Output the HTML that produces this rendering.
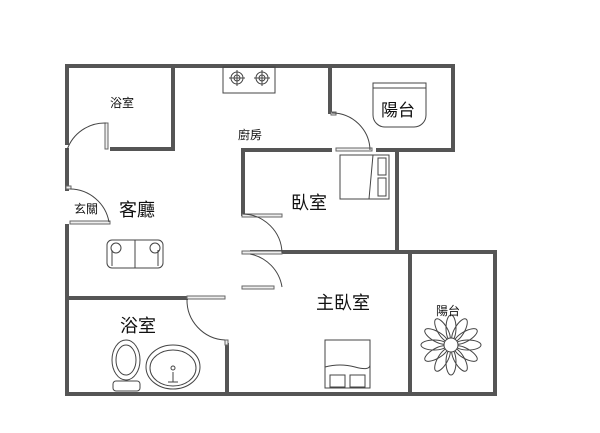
<!DOCTYPE html>
<html><head><meta charset="utf-8"><style>
html,body{margin:0;padding:0;background:#fff;width:600px;height:433px;overflow:hidden}
text{font-family:"Liberation Sans","Noto Sans CJK TC",sans-serif;fill:#111}
</style></head><body>
<svg width="600" height="433" viewBox="0 0 600 433" xmlns="http://www.w3.org/2000/svg">
<g stroke="#555" stroke-width="4" fill="none" stroke-linecap="square">
<!-- outer top -->
<line x1="67" y1="66" x2="453" y2="66"/>
<!-- left wall -->
<line x1="67" y1="66" x2="67" y2="143"/>
<line x1="67" y1="150" x2="67" y2="189"/>
<line x1="67" y1="226" x2="67" y2="394"/>
<!-- bottom -->
<line x1="67" y1="394" x2="495" y2="394"/>
<!-- bathroom top-left -->
<line x1="173" y1="66" x2="173" y2="149"/>
<line x1="112" y1="149" x2="173" y2="149"/>
<!-- balcony top -->
<line x1="330" y1="66" x2="330" y2="112"/>
<line x1="453" y1="66" x2="453" y2="150"/>
<line x1="378" y1="150" x2="453" y2="150"/>
<!-- bedroom -->
<line x1="243" y1="150" x2="330" y2="150"/>
<line x1="243" y1="150" x2="243" y2="214"/>
<line x1="397" y1="150" x2="397" y2="250"/>
<line x1="252" y1="252" x2="495" y2="252"/>
<!-- balcony 2 -->
<line x1="410" y1="252" x2="410" y2="394"/>
<line x1="495" y1="252" x2="495" y2="394"/>
<!-- bathroom bottom -->
<line x1="67" y1="298" x2="186" y2="298"/>
<line x1="227" y1="345" x2="227" y2="394"/>
</g>
<g stroke="#666" stroke-width="1" fill="#eee">
<!-- door leaves -->
<rect x="105" y="123" width="3" height="26"/>
<rect x="70" y="221" width="40" height="3"/>
<rect x="242" y="214" width="40" height="3"/>
<rect x="242" y="251" width="40" height="3"/>
<rect x="242" y="286" width="32" height="3"/>
<rect x="187" y="296" width="38" height="3"/>
<rect x="225" y="340" width="3" height="5"/>
<rect x="331" y="112" width="5" height="3"/>
<rect x="336" y="148" width="36" height="3"/>
<rect x="66" y="186" width="5" height="3"/>
</g>
<g stroke="#444" stroke-width="1" fill="none">
<path d="M67 150 A40 40 0 0 1 106 123"/>
<path d="M70 189 A40 40 0 0 1 109 222"/>
<path d="M243 214 A40 40 0 0 1 282 253"/>
<path d="M250 254 A40 40 0 0 1 282 287"/>
<path d="M187 299 A40 40 0 0 0 225 340"/>
<path d="M332 113 A38 38 0 0 1 370 150"/>
<!-- stove -->
<rect x="223" y="67" width="52" height="26"/>
<circle cx="237" cy="78" r="6"/><circle cx="237" cy="78" r="3"/>
<circle cx="262" cy="78" r="6"/><circle cx="262" cy="78" r="3"/>
<path d="M229 78h16M237 70v16M254 78h16M262 70v16"/>
<!-- balcony sink -->
<path d="M373 83h53v32a12 12 0 0 1 -12 12h-29a12 12 0 0 1 -12 -12z"/>
<path d="M373 88h53"/>
<!-- bed 1 -->
<rect x="340" y="155" width="49" height="44"/>
<path d="M373 155l-4 44M378 158h8v17h-8zM378 178h8v18h-8z"/>
<!-- sofa -->
<rect x="107" y="240" width="56" height="28" rx="5"/>
<path d="M135 240v28"/>
<circle cx="116" cy="248" r="5"/><circle cx="155" cy="248" r="5"/>
<path d="M112 250v16M158 250v16"/>
<!-- toilet -->
<ellipse cx="126" cy="360" rx="14" ry="20"/>
<ellipse cx="126" cy="360" rx="10" ry="15"/>
<rect x="113" y="381" width="27" height="10" rx="3"/>
<!-- sink -->
<ellipse cx="173" cy="367" rx="27" ry="22"/>
<ellipse cx="173" cy="368" rx="23" ry="18"/>
<circle cx="173" cy="368" r="2"/>
<path d="M173 372v10M168 382h10"/>
<!-- master bed -->
<rect x="325" y="340" width="45" height="48"/>
<path d="M325 367q15 -4 30 0t15 -2M330 375h15v12h-15zM350 375h15v12h-15z"/>
<!-- flower -->
<g transform="translate(451,345)">
<ellipse cx="0" cy="-17" rx="5" ry="13"/>
<ellipse cx="0" cy="-17" rx="5" ry="13" transform="rotate(30)"/>
<ellipse cx="0" cy="-17" rx="5" ry="13" transform="rotate(60)"/>
<ellipse cx="0" cy="-17" rx="5" ry="13" transform="rotate(90)"/>
<ellipse cx="0" cy="-17" rx="5" ry="13" transform="rotate(120)"/>
<ellipse cx="0" cy="-17" rx="5" ry="13" transform="rotate(150)"/>
<ellipse cx="0" cy="-17" rx="5" ry="13" transform="rotate(180)"/>
<ellipse cx="0" cy="-17" rx="5" ry="13" transform="rotate(210)"/>
<ellipse cx="0" cy="-17" rx="5" ry="13" transform="rotate(240)"/>
<ellipse cx="0" cy="-17" rx="5" ry="13" transform="rotate(270)"/>
<ellipse cx="0" cy="-17" rx="5" ry="13" transform="rotate(300)"/>
<ellipse cx="0" cy="-17" rx="5" ry="13" transform="rotate(330)"/>
<circle r="7" fill="#fff"/>
</g>
</g>
<text x="122" y="107" font-size="12" text-anchor="middle">浴室</text>
<text x="250" y="139" font-size="12" text-anchor="middle">廚房</text>
<text x="398" y="116" font-size="17" text-anchor="middle">陽台</text>
<text x="309" y="209" font-size="18" text-anchor="middle">臥室</text>
<text x="86" y="213" font-size="12" text-anchor="middle">玄關</text>
<text x="137" y="216" font-size="18" text-anchor="middle">客廳</text>
<text x="343" y="309" font-size="18" text-anchor="middle">主臥室</text>
<text x="138" y="332" font-size="18" text-anchor="middle">浴室</text>
<text x="448" y="315" font-size="12" text-anchor="middle">陽台</text>
</svg>
</body></html>
